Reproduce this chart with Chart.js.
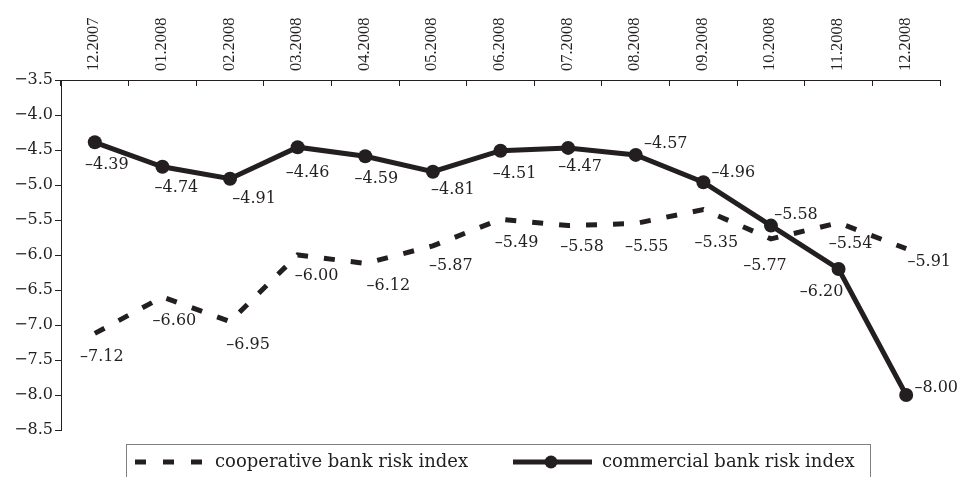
<!DOCTYPE html>
<html>
<head>
<meta charset="utf-8">
<style>
html, body { margin: 0; padding: 0; background: #fff; }
canvas { display: block; }
</style>
</head>
<body>
<canvas id="riskChart" width="958" height="477"></canvas>
<script src="https://cdn.jsdelivr.net/npm/chart.js@4/dist/chart.umd.min.js"></script>
<script>
// months shown along the top axis
var months = ["12.2007", "01.2008", "02.2008", "03.2008", "04.2008", "05.2008", "06.2008",
	"07.2008", "08.2008", "09.2008", "10.2008", "11.2008", "12.2008"];

// risk index values
var cooperative = [-7.12, -6.60, -6.95, -6.00, -6.12, -5.87, -5.49, -5.58, -5.55, -5.35, -5.77, -5.54, -5.91];
var commercial = [-4.39, -4.74, -4.91, -4.46, -4.59, -4.81, -4.51, -4.47, -4.57, -4.96, -5.58, -6.20, -8.00];

// value axis range
var yMin = -8.5, yMax = -3.5, yStep = 0.5;

// where each value label sits, relative to its point (px)
var coopLabelPos = [[7,23],[12,24],[18,23],[19,21],[23,22],[18,20],[16,24],[14,21],[11,23],[13,33],[-6,27],[12,21],[23,13]];
var commLabelPos = [[12,23],[14,21],[24,20],[10,26],[11,23],[20,18],[14,23],[12,19],[30,-11],[30,-9],[25,-11],[-17,23],[30,-7]];

var ink = "#231f20";
var serif = "'DejaVu Serif', serif";

// draws the number next to every point
var valueLabels = {
	id: "valueLabels",
	afterDatasetsDraw: function (chart) {
		var ctx = chart.ctx;
		var offsets = [coopLabelPos, commLabelPos];
		ctx.save();
		ctx.font = "16px " + serif;
		ctx.fillStyle = ink;
		ctx.textAlign = "center";
		ctx.textBaseline = "middle";
		chart.data.datasets.forEach(function (ds, d) {
			var meta = chart.getDatasetMeta(d);
			meta.data.forEach(function (pt, i) {
				var txt = ds.data[i].toFixed(2).replace("-", "\u2013");
				ctx.fillText(txt, pt.x + offsets[d][i][0], pt.y + offsets[d][i][1]);
			});
		});
		ctx.restore();
	}
};

// boxed legend under the plot
var boxLegend = {
	id: "boxLegend",
	afterDraw: function (chart) {
		var ctx = chart.ctx;
		ctx.save();
		ctx.strokeStyle = "#808080";
		ctx.lineWidth = 1;
		ctx.strokeRect(126.5, 444.5, 744, 40);

		var ly = 462;
		// dashed sample
		ctx.strokeStyle = ink;
		ctx.lineWidth = 5;
		ctx.setLineDash([11, 17]);
		ctx.beginPath();
		ctx.moveTo(135, ly);
		ctx.lineTo(203, ly);
		ctx.stroke();
		ctx.setLineDash([]);

		// solid sample with marker
		ctx.beginPath();
		ctx.moveTo(513, ly);
		ctx.lineTo(592, ly);
		ctx.stroke();
		ctx.fillStyle = ink;
		ctx.beginPath();
		ctx.arc(551, ly, 6.5, 0, Math.PI * 2);
		ctx.fill();

		ctx.font = "18px " + serif;
		ctx.textAlign = "left";
		ctx.textBaseline = "middle";
		ctx.fillText(chart.data.datasets[0].label, 215, ly);
		ctx.fillText(chart.data.datasets[1].label, 602, ly);
		ctx.restore();
	}
};

new Chart(document.getElementById("riskChart"), {
	type: "line",
	data: {
		labels: months,
		datasets: [
			{
				label: "cooperative bank risk index",
				data: cooperative,
				borderColor: ink,
				borderWidth: 5,
				borderDash: [11, 16],
				pointRadius: 0,
				tension: 0,
				fill: false
			},
			{
				label: "commercial bank risk index",
				data: commercial,
				borderColor: ink,
				backgroundColor: ink,
				borderWidth: 5,
				pointRadius: 7,
				pointBackgroundColor: ink,
				pointBorderWidth: 0,
				tension: 0,
				fill: false
			}
		]
	},
	options: {
		responsive: false,
		animation: false,
		devicePixelRatio: 1,
		layout: { padding: { left: 0, right: 18, top: 0, bottom: 47 } },
		plugins: {
			legend: { display: false },
			tooltip: { enabled: false }
		},
		scales: {
			x: {
				position: "top",
				offset: true,
				grid: {
					offset: true,
					drawOnChartArea: false,
					drawTicks: true,
					tickLength: -6,
					color: ink
				},
				border: { display: true, color: ink, width: 1 },
				ticks: {
					minRotation: 90,
					maxRotation: 90,
					padding: 15,
					labelOffset: 19,
					autoSkip: false,
					color: ink,
					font: { family: "'Liberation Serif', serif", size: 16.5 }
				},
				afterFit: function (scale) { scale.height = 80; }
			},
			y: {
				min: yMin,
				max: yMax,
				grid: {
					drawOnChartArea: false,
					drawTicks: true,
					tickLength: 6,
					color: ink
				},
				border: { display: true, color: ink, width: 1 },
				ticks: {
					stepSize: yStep,
					padding: 2,
					color: ink,
					font: { family: serif, size: 16 },
					callback: function (v) { return v.toFixed(1).replace("-", "\u2212"); }
				},
				afterFit: function (scale) { scale.width = 61; }
			}
		}
	},
	plugins: [valueLabels, boxLegend]
});
</script>
</body>
</html>
